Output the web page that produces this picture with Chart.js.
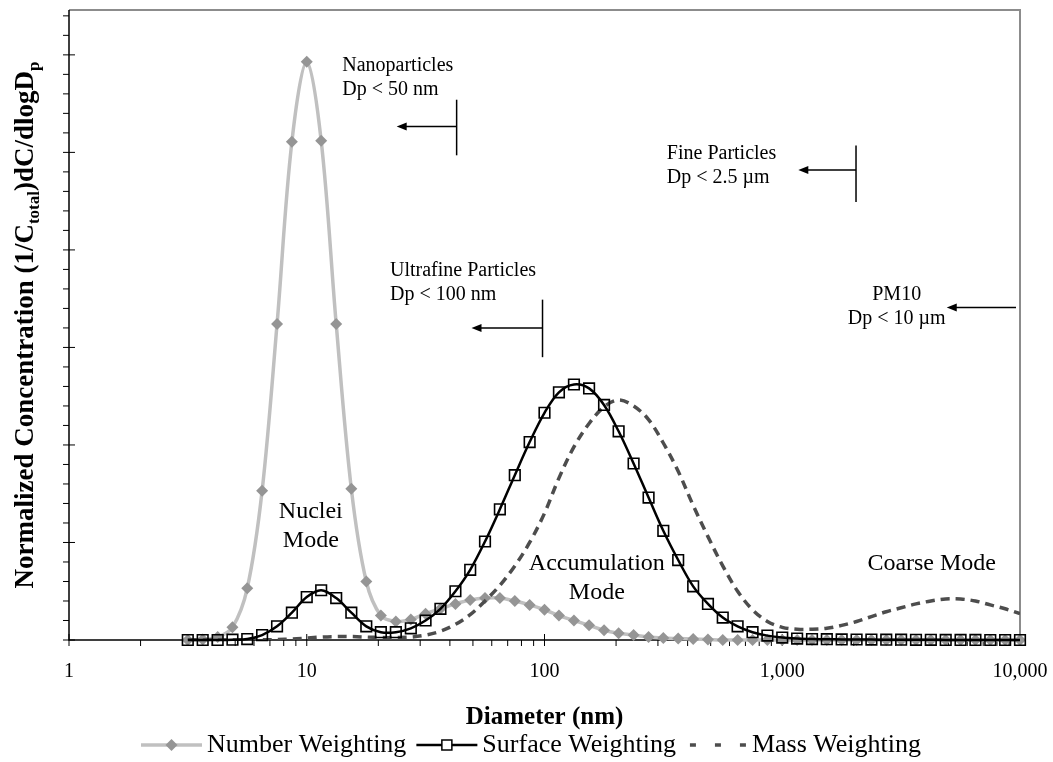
<!DOCTYPE html>
<html>
<head>
<meta charset="utf-8">
<script src="https://cdn.jsdelivr.net/npm/chart.js@4.4.0/dist/chart.umd.min.js"></script>
<style>
  html, body { margin: 0; padding: 0; background: #fff; }
</style>
</head>
<body>
<canvas id="grafico" width="1053" height="762"></canvas>
<script>
// Diametros de cada canal (nm), 16 canales por decada
const diametros = [3.16, 3.65, 4.22, 4.87, 5.62, 6.49, 7.50, 8.66, 10.0, 11.5, 13.3, 15.4, 17.8, 20.5, 23.7, 27.4,
  31.6, 36.5, 42.2, 48.7, 56.2, 64.9, 75.0, 86.6, 100, 115, 133, 154, 178, 205, 237, 274,
  316, 365, 422, 487, 562, 649, 750, 866, 1000, 1155, 1334, 1540, 1778, 2054, 2371, 2738,
  3162, 3652, 4217, 4870, 5623, 6494, 7499, 8660, 10000];

// Concentracion normalizada por tipo de ponderacion
const numero = [0, 0.005, 0.03, 0.13, 0.53, 1.53, 3.24, 5.11, 5.93, 5.12, 3.24, 1.55, 0.60, 0.25, 0.19, 0.21,
  0.27, 0.32, 0.37, 0.41, 0.43, 0.43, 0.40, 0.36, 0.31, 0.25, 0.20, 0.15, 0.10, 0.07, 0.05, 0.03,
  0.02, 0.015, 0.01, 0.005, 0, 0, 0, 0, 0, 0, 0, 0, 0, 0, 0, 0,
  0, 0, 0, 0, 0, 0, 0, 0, 0];
const superficie = [0, 0, 0, 0.003, 0.01, 0.05, 0.14, 0.28, 0.44, 0.51, 0.43, 0.28, 0.14, 0.08, 0.08, 0.12,
  0.20, 0.32, 0.50, 0.72, 1.01, 1.34, 1.69, 2.03, 2.33, 2.54, 2.62, 2.58, 2.41, 2.14, 1.81, 1.46,
  1.12, 0.82, 0.55, 0.37, 0.23, 0.14, 0.08, 0.045, 0.025, 0.015, 0.01, 0.008, 0.006, 0.005, 0.004, 0.003,
  0.003, 0.002, 0.002, 0.001, 0.001, 0.001, 0, 0, 0];
const masa = [0, 0, 0, 0, 0, 0.002, 0.005, 0.01, 0.02, 0.03, 0.035, 0.035, 0.03, 0.025, 0.025, 0.03,
  0.05, 0.09, 0.16, 0.26, 0.40, 0.56, 0.76, 1.00, 1.30, 1.66, 1.98, 2.22, 2.39, 2.46, 2.40, 2.26,
  2.02, 1.73, 1.38, 1.06, 0.76, 0.50, 0.31, 0.19, 0.13, 0.11, 0.11, 0.12, 0.15, 0.19, 0.24, 0.29,
  0.33, 0.37, 0.40, 0.42, 0.42, 0.40, 0.36, 0.32, 0.27];

const valoresEjeX = [1, 10, 100, 1000, 10000];
const etiquetasEjeX = ['1', '10', '100', '1,000', '10,000'];
const yMax = 6.46;

const serif = "'Liberation Serif', 'Times New Roman', serif";

// Textos y flechas sobre el grafico (coordenadas en unidades de los ejes)
const textos = [
  { lineas: ['Nanoparticles', 'Dp < 50 nm'], x: 14.1, y: 5.83, alin: 'left', tam: 20 },
  { lineas: ['Ultrafine Particles', 'Dp < 100 nm'], x: 22.4, y: 3.73, alin: 'left', tam: 20 },
  { lineas: ['Fine Particles', 'Dp < 2.5 \u00b5m'], x: 327, y: 4.93, alin: 'left', tam: 20 },
  { lineas: ['PM10', 'Dp < 10 \u00b5m'], x: 3029, y: 3.49, alin: 'center', tam: 20 },
  { lineas: ['Nuclei', 'Mode'], x: 10.4, y: 1.25, alin: 'center', tam: 24 },
  { lineas: ['Accumulation', 'Mode'], x: 166, y: 0.72, alin: 'center', tam: 24 },
  { lineas: ['Coarse Mode'], x: 4252, y: 0.72, alin: 'center', tam: 24 }
];
const flechas = [
  { desde: 42.7, hasta: 23.9, y: 5.265, tope: [5.54, 4.97] },
  { desde: 98.1, hasta: 49.3, y: 3.20, tope: [3.49, 2.90] },
  { desde: 2043, hasta: 1168, y: 4.82, tope: [5.07, 4.49] },
  { desde: 9620, hasta: 4918, y: 3.41, tope: null }
];

const aPuntos = (serie) => diametros.map((d, i) => ({ x: d, y: serie[i] }));

// Borde del area de trazado, ejes y marcas de division
const marcoEjes = {
  id: 'marcoEjes',
  beforeDatasetsDraw(chart) {
    const { ctx, chartArea: a, scales: { x, y } } = chart;
    ctx.save();
    ctx.strokeStyle = '#8c8c8c';
    ctx.lineWidth = 2;
    ctx.beginPath();
    ctx.moveTo(a.left, a.top);
    ctx.lineTo(a.right, a.top);
    ctx.lineTo(a.right, a.bottom);
    ctx.stroke();

    ctx.strokeStyle = '#000';
    ctx.lineWidth = 1.5;
    ctx.beginPath();
    ctx.moveTo(a.left, a.top);
    ctx.lineTo(a.left, a.bottom);
    ctx.lineTo(a.right, a.bottom);
    ctx.stroke();

    ctx.lineWidth = 1;
    for (let i = 0; i * 0.2 <= yMax; i++) {
      const py = y.getPixelForValue(i * 0.2);
      const mayor = i % 5 === 0;
      ctx.beginPath();
      ctx.moveTo(a.left - 6, py);
      ctx.lineTo(mayor ? a.left + 6 : a.left, py);
      ctx.stroke();
    }
    for (let dec = 1; dec <= 10000; dec *= 10) {
      for (let m = 1; m < 10; m++) {
        const v = dec * m;
        if (v > 10000) break;
        const px = x.getPixelForValue(v);
        ctx.beginPath();
        ctx.moveTo(px, m === 1 ? a.bottom - 6 : a.bottom);
        ctx.lineTo(px, a.bottom + 6);
        ctx.stroke();
      }
    }
    ctx.restore();
  },
  afterDatasetsDraw(chart) {
    const { ctx, scales: { x, y } } = chart;
    ctx.save();
    ctx.fillStyle = '#000';
    textos.forEach(t => {
      ctx.font = t.tam + 'px ' + serif;
      ctx.textAlign = t.alin;
      ctx.textBaseline = 'alphabetic';
      const px = x.getPixelForValue(t.x);
      const py = y.getPixelForValue(t.y);
      t.lineas.forEach((l, i) => ctx.fillText(l, px, py + i * t.tam * 1.2));
    });
    ctx.strokeStyle = '#000';
    ctx.lineWidth = 1.5;
    flechas.forEach(f => {
      const x0 = x.getPixelForValue(f.desde);
      const x1 = x.getPixelForValue(f.hasta);
      const py = y.getPixelForValue(f.y);
      ctx.beginPath();
      ctx.moveTo(x0, py);
      ctx.lineTo(x1 + 8, py);
      ctx.stroke();
      ctx.beginPath();
      ctx.moveTo(x1, py);
      ctx.lineTo(x1 + 10, py - 4);
      ctx.lineTo(x1 + 10, py + 4);
      ctx.closePath();
      ctx.fill();
      if (f.tope) {
        ctx.beginPath();
        ctx.moveTo(x0, y.getPixelForValue(f.tope[0]));
        ctx.lineTo(x0, y.getPixelForValue(f.tope[1]));
        ctx.stroke();
      }
    });
    ctx.restore();
  },
  afterDraw(chart) {
    const { ctx, chartArea: a } = chart;
    ctx.save();
    ctx.fillStyle = '#000';

    // Titulo del eje y con subindices
    const partes = [
      ['Normalized Concentration (1/C', false], ['total', true],
      [')dC/dlogD', false], ['p', true]
    ];
    const fuente = (sub) => 'bold ' + (sub ? 17 : 27) + 'px ' + serif;
    let ancho = 0;
    partes.forEach(([t, sub]) => { ctx.font = fuente(sub); ancho += ctx.measureText(t).width; });
    ctx.translate(33, (a.top + a.bottom) / 2);
    ctx.rotate(-Math.PI / 2);
    ctx.textAlign = 'left';
    ctx.textBaseline = 'alphabetic';
    let cx = -ancho / 2;
    partes.forEach(([t, sub]) => {
      ctx.font = fuente(sub);
      ctx.fillText(t, cx, sub ? 6 : 0);
      cx += ctx.measureText(t).width;
    });
    ctx.setTransform(1, 0, 0, 1, 0, 0);

    // Titulo del eje x
    ctx.font = 'bold 25px ' + serif;
    ctx.textAlign = 'center';
    ctx.fillText('Diameter (nm)', (a.left + a.right) / 2, 724);

    // Leyenda
    const items = [
      { texto: 'Number Weighting', tipo: 'numero' },
      { texto: 'Surface Weighting', tipo: 'superficie' },
      { texto: 'Mass Weighting', tipo: 'masa' }
    ];
    const largo = 61, sep = 5, entre = 10, ly = 745;
    ctx.font = '26px ' + serif;
    let total = 0;
    items.forEach(it => { it.w = ctx.measureText(it.texto).width; total += largo + sep + it.w; });
    total += entre * (items.length - 1);
    let lx = 531 - total / 2;
    items.forEach(it => {
      const mx = lx + largo / 2;
      ctx.save();
      if (it.tipo === 'numero') {
        ctx.strokeStyle = '#c0c0c0'; ctx.lineWidth = 3.5;
        ctx.beginPath(); ctx.moveTo(lx, ly); ctx.lineTo(lx + largo, ly); ctx.stroke();
        ctx.fillStyle = '#959595';
        ctx.beginPath(); ctx.moveTo(mx, ly - 6); ctx.lineTo(mx + 6, ly); ctx.lineTo(mx, ly + 6); ctx.lineTo(mx - 6, ly); ctx.closePath(); ctx.fill();
      } else if (it.tipo === 'superficie') {
        ctx.strokeStyle = '#000'; ctx.lineWidth = 2.5;
        ctx.beginPath(); ctx.moveTo(lx, ly); ctx.lineTo(lx + largo, ly); ctx.stroke();
        ctx.fillStyle = '#fff'; ctx.lineWidth = 1.5;
        ctx.fillRect(mx - 5, ly - 5, 10, 10); ctx.strokeRect(mx - 5, ly - 5, 10, 10);
      } else {
        ctx.strokeStyle = '#4d4d4d'; ctx.lineWidth = 3.5;
        ctx.setLineDash([6, 19]);
        ctx.beginPath(); ctx.moveTo(lx + 4, ly); ctx.lineTo(lx + largo, ly); ctx.stroke();
      }
      ctx.restore();
      ctx.fillStyle = '#000';
      ctx.textAlign = 'left';
      ctx.textBaseline = 'middle';
      ctx.fillText(it.texto, lx + largo + sep, ly);
      lx += largo + sep + it.w + entre;
    });
    ctx.restore();
  }
};

new Chart(document.getElementById('grafico'), {
  type: 'line',
  data: {
    datasets: [
      {
        label: 'Number Weighting',
        data: aPuntos(numero),
        borderColor: '#c0c0c0',
        borderWidth: 3.5,
        pointStyle: 'rectRot',
        pointRadius: 6,
        pointBackgroundColor: '#959595',
        pointBorderColor: '#959595',
        pointBorderWidth: 0,
        tension: 0.35,
        clip: false,
        order: 3
      },
      {
        label: 'Surface Weighting',
        data: aPuntos(superficie),
        borderColor: '#000',
        borderWidth: 2.5,
        pointStyle: 'rect',
        pointRadius: 7.5,
        pointBackgroundColor: 'rgba(0,0,0,0)',
        pointBorderColor: '#000',
        pointBorderWidth: 1.6,
        tension: 0.35,
        clip: false,
        order: 1
      },
      {
        label: 'Mass Weighting',
        data: aPuntos(masa),
        borderColor: '#4d4d4d',
        borderWidth: 3.5,
        borderDash: [9, 6],
        pointRadius: 0,
        tension: 0.35,
        order: 2
      }
    ]
  },
  options: {
    responsive: false,
    animation: false,
    devicePixelRatio: 1,
    layout: { padding: { top: 10, right: 33, left: 0, bottom: 0 } },
    plugins: { legend: { display: false }, tooltip: { enabled: false } },
    scales: {
      x: {
        type: 'logarithmic',
        min: 1,
        max: 10000,
        afterBuildTicks: (s) => { s.ticks = valoresEjeX.map(v => ({ value: v })); },
        afterFit: (s) => { s.height = 122; s.paddingLeft = 0; s.paddingRight = 0; },
        ticks: {
          callback: (v, i) => etiquetasEjeX[i],
          font: { family: serif, size: 20 },
          color: '#000',
          padding: 20,
          maxRotation: 0,
          autoSkip: false
        },
        grid: { display: false, drawTicks: false },
        border: { display: false }
      },
      y: {
        min: 0,
        max: yMax,
        afterFit: (s) => { s.width = 69; },
        ticks: { display: false },
        grid: { display: false, drawTicks: false },
        border: { display: false }
      }
    }
  },
  plugins: [marcoEjes]
});
</script>
</body>
</html>
